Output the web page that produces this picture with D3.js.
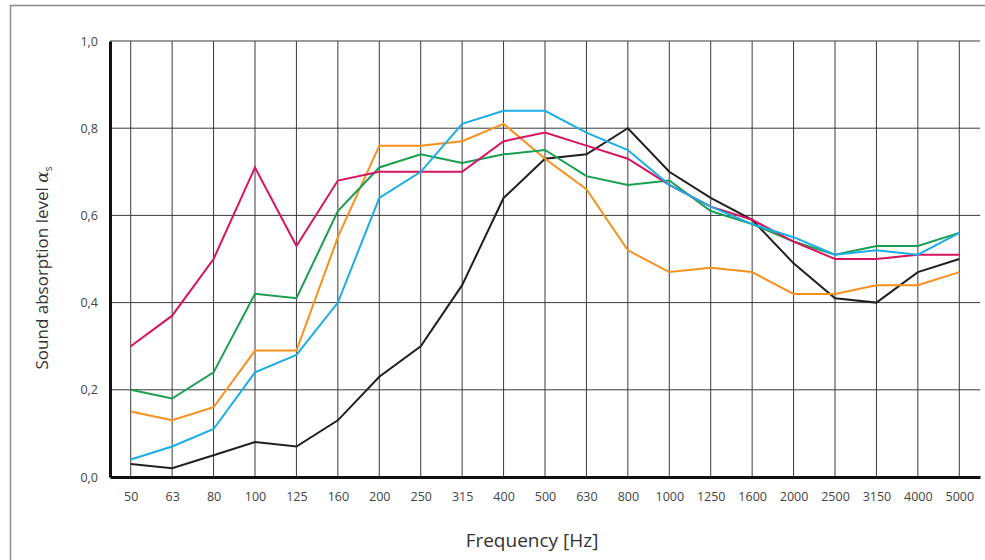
<!DOCTYPE html>
<html>
<head>
<meta charset="utf-8">
<script src="https://cdn.jsdelivr.net/npm/d3@7"></script>
<style>
  body { margin: 0; background: #fff; }
  svg { display: block; font-family: "Open Sans", "DejaVu Sans", sans-serif; }
</style>
</head>
<body>
<svg id="chart" width="985" height="560"></svg>
<script>
// frequencies (x categories)
var freqs = ["50", "63", "80", "100", "125", "160", "200", "250", "315", "400", "500",
             "630", "800", "1000", "1250", "1600", "2000", "2500", "3150", "4000", "5000"];
var yTicks = [0, 0.2, 0.4, 0.6, 0.8, 1.0];

// absorption values per curve
var magentaVals = [0.30, 0.37, 0.50, 0.71, 0.53, 0.68, 0.70, 0.70, 0.70, 0.77, 0.79,
                   0.76, 0.73, 0.67, 0.62, 0.59, 0.54, 0.50, 0.50, 0.51, 0.51];
var greenVals   = [0.20, 0.18, 0.24, 0.42, 0.41, 0.61, 0.71, 0.74, 0.72, 0.74, 0.75,
                   0.69, 0.67, 0.68, 0.61, 0.58, 0.54, 0.51, 0.53, 0.53, 0.56];
var orangeVals  = [0.15, 0.13, 0.16, 0.29, 0.29, 0.55, 0.76, 0.76, 0.77, 0.81, 0.73,
                   0.66, 0.52, 0.47, 0.48, 0.47, 0.42, 0.42, 0.44, 0.44, 0.47];
var blueVals    = [0.04, 0.07, 0.11, 0.24, 0.28, 0.40, 0.64, 0.70, 0.81, 0.84, 0.84,
                   0.79, 0.75, 0.67, 0.62, 0.58, 0.55, 0.51, 0.52, 0.51, 0.56];
var blackVals   = [0.03, 0.02, 0.05, 0.08, 0.07, 0.13, 0.23, 0.30, 0.44, 0.64, 0.73,
                   0.74, 0.80, 0.70, 0.64, 0.59, 0.49, 0.41, 0.40, 0.47, 0.50];

var series = [
  { vals: blackVals,   color: "#231f20" },
  { vals: orangeVals,  color: "#f7901e" },
  { vals: greenVals,   color: "#1a9e52" },
  { vals: magentaVals, color: "#d7145f" },
  { vals: blueVals,    color: "#1cade4" }
];

var svg = d3.select("#chart");
var margin = { top: 41, right: 5, bottom: 83, left: 110 };
var width = 985 - margin.left - margin.right;
var height = 560 - margin.top - margin.bottom;

// outer frame
svg.append("path")
  .attr("d", "M985,5.5 H10.5 V560")
  .attr("fill", "none")
  .attr("stroke", "#8a8a8a")
  .attr("stroke-width", 1.5);

var g = svg.append("g")
  .attr("transform", "translate(" + margin.left + "," + margin.top + ")");

var x = d3.scalePoint()
  .domain(freqs)
  .range([0, width])
  .padding(0.5);

var y = d3.scaleLinear()
  .domain([0, 1])
  .range([height, 0]);

// grid
g.append("g")
  .selectAll("line")
  .data(yTicks.slice(1))
  .enter().append("line")
  .attr("x1", 0).attr("x2", width)
  .attr("y1", function (d) { return y(d); })
  .attr("y2", function (d) { return y(d); })
  .attr("stroke", "#3a3a3a")
  .attr("stroke-width", 1);

g.append("g")
  .selectAll("line")
  .data(freqs)
  .enter().append("line")
  .attr("x1", function (d) { return x(d); })
  .attr("x2", function (d) { return x(d); })
  .attr("y1", 0).attr("y2", height)
  .attr("stroke", "#3a3a3a")
  .attr("stroke-width", 1);

// axes
var yAxis = d3.axisLeft(y)
  .tickValues(yTicks)
  .tickSize(0)
  .tickPadding(12)
  .tickFormat(function (d) { return d3.format(".1f")(d).replace(".", ","); });

var yG = g.append("g").call(yAxis);
yG.select(".domain").attr("stroke", "#111").attr("stroke-width", 3);

var xAxis = d3.axisBottom(x).tickSize(0).tickPadding(15);
var xG = g.append("g")
  .attr("transform", "translate(0," + height + ")")
  .call(xAxis);
xG.select(".domain").attr("stroke", "#111").attr("stroke-width", 3);

svg.selectAll(".tick text")
  .attr("font-size", 12.5)
  .attr("fill", "#444")
  .attr("font-family", "\"Open Sans\", \"DejaVu Sans\", sans-serif");

// curves
var line = d3.line()
  .x(function (d, i) { return x(freqs[i]); })
  .y(function (d) { return y(d); });

g.selectAll(".curve")
  .data(series)
  .enter().append("path")
  .attr("class", "curve")
  .attr("d", function (s) { return line(s.vals); })
  .attr("fill", "none")
  .attr("stroke", function (s) { return s.color; })
  .attr("stroke-width", 2)
  .attr("stroke-linejoin", "miter");

// titles
svg.append("text")
  .attr("x", 532)
  .attr("y", 547)
  .attr("text-anchor", "middle")
  .attr("font-size", 19)
  .attr("fill", "#333")
  .text("Frequency [Hz]");

var yt = svg.append("text")
  .attr("transform", "translate(48," + 268 + ") rotate(-90)")
  .attr("text-anchor", "middle")
  .attr("font-size", 17)
  .attr("fill", "#333");
yt.append("tspan").text("Sound absorption level ");
yt.append("tspan").attr("font-family", "\"DejaVu Serif\", serif").attr("font-style", "italic").text("α");
yt.append("tspan").attr("font-size", 10).attr("dy", 4).text("s");
</script>
</body>
</html>
